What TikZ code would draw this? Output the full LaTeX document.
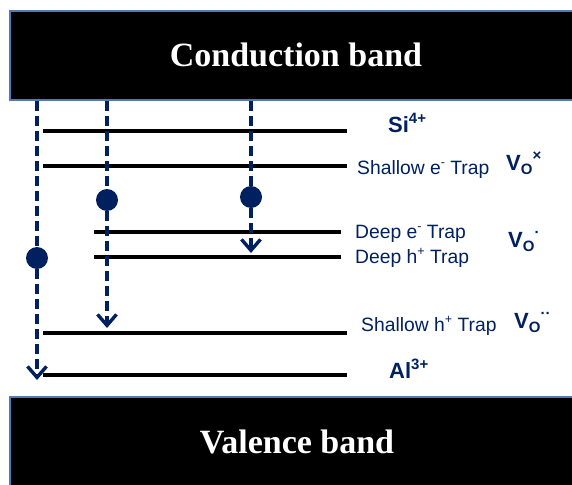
\documentclass[tikz,border=0pt]{standalone}
\usepackage{fontspec}
\setmainfont{Liberation Sans}
\newfontfamily\bandfont{Liberation Serif}
\usetikzlibrary{arrows.meta}

\definecolor{navy}{RGB}{0,32,96}
\definecolor{edgeblue}{RGB}{84,120,180}

\newcommand{\up}[1]{\raisebox{0.38em}{\fontsize{12.5}{12.5}\selectfont #1}}
\newcommand{\upb}[1]{\raisebox{0.40em}{\fontsize{15}{15}\selectfont\bfseries #1}}
\newcommand{\vac}[1]{\textbf{V}\raisebox{-0.22em}{\fontsize{15}{15}\selectfont\bfseries O}\raisebox{0.42em}{\fontsize{15}{15}\selectfont #1}}

\begin{document}
\begin{tikzpicture}[x=1pt,y=-1pt,
  band/.style={fill=black,draw=edgeblue,line width=1.2pt},
  bandtext/.style={text=white,font=\bandfont\bfseries\fontsize{34}{34}\selectfont,anchor=base},
  level/.style={line width=3.6pt,black},
  lbl/.style={text=navy,font=\fontsize{19.3}{19.3}\selectfont,anchor=base west,inner sep=0pt},
  blbl/.style={lbl,font=\bfseries\fontsize{22}{22}\selectfont},
  eline/.style={navy,line width=3.6pt,dash pattern=on 10pt off 5pt},
  hop/.style={eline,-{Straight Barb[length=11pt,width=19pt,line width=3.4pt]}},
  dot/.style={circle,fill=navy,minimum size=22pt,inner sep=0pt}]

\useasboundingbox (0,0) rectangle (572,484);
\clip (0,0) rectangle (572,484);

% conduction band
\draw[band] (10,11) rectangle (585,100);
\node[bandtext] (cb) at (296,67) {Conduction band};

% valence band
\draw[band] (10,397) rectangle (585,495);
\node[bandtext] (vb) at (297,453) {Valence band};

% levels
\draw[level] (43,131) -- (347,131);
\draw[level] (43,166) -- (347,166);
\draw[level] (94,232) -- (341,232);
\draw[level] (94,257) -- (341,257);
\draw[level] (43,333) -- (347,333);
\draw[level] (43,375) -- (347,375);

% labels
\node[blbl] (si) at (388,132) {Si\upb{4+}};
\node[lbl] (she) at (357,174) {Shallow e\up{-} Trap};
\node[blbl] (v0) at (506,170) {\vac{×}};
\node[lbl] (dpe) at (355,238) {Deep e\up{-} Trap};
\node[lbl] (dph) at (355,263) {Deep h\up{+} Trap};
\node[blbl] (v1) at (508,247) {\vac{·}};
\node[lbl] (shh) at (361,331) {Shallow h\up{+} Trap};
\node[blbl] (v2) at (514,328) {\vac{··}};
\node[blbl] (al) at (389,378) {Al\upb{3+}};

% electrons
\coordinate (s1) at (37,101);
\coordinate (s2) at (107,101);
\coordinate (s3) at (251,101);
\node[dot] (e1) at (37,258) {};
\node[dot] (e2) at (107,200) {};
\node[dot] (e3) at (251,197) {};
\coordinate (t1) at (37,380);
\coordinate (t2) at (107,328);
\coordinate (t3) at (251,253);

\draw[eline] (s1) -- (e1);
\draw[eline] (s2) -- (e2);
\draw[eline] (s3) -- (e3);
\draw[hop] (e1) -- (t1);
\draw[hop] (e2) -- (t2);
\draw[hop] (e3) -- (t3);

\end{tikzpicture}
\end{document}
